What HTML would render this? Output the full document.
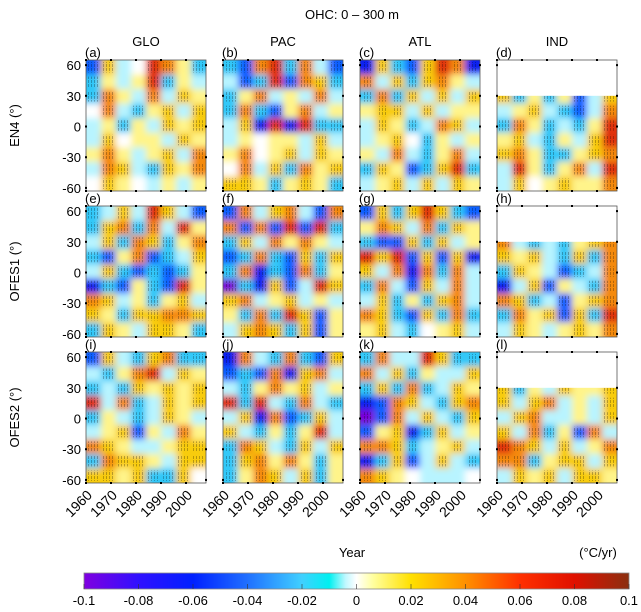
<!DOCTYPE html>
<html><head><meta charset="utf-8"><style>
body{margin:0;background:#fff;}
svg{display:block;font-family:"Liberation Sans",Arial,sans-serif;}
</style></head><body>
<svg id="fig" width="641" height="612" viewBox="0 0 641 612">
<defs>
<linearGradient id="cbg" x1="0" x2="1" y1="0" y2="0">
<stop offset="0" stop-color="#8000e0"/><stop offset="0.1" stop-color="#3010ff"/>
<stop offset="0.2" stop-color="#0020ff"/><stop offset="0.3" stop-color="#2070ff"/>
<stop offset="0.4" stop-color="#40d0ff"/><stop offset="0.45" stop-color="#00f0f0"/>
<stop offset="0.48" stop-color="#c0f8ff"/><stop offset="0.5" stop-color="#ffffff"/>
<stop offset="0.53" stop-color="#ffffa0"/><stop offset="0.6" stop-color="#ffe000"/>
<stop offset="0.7" stop-color="#ff9000"/><stop offset="0.8" stop-color="#ff3000"/>
<stop offset="0.9" stop-color="#e01000"/><stop offset="1" stop-color="#8a3010"/>
</linearGradient>
<pattern id="hatch" width="3" height="4" patternUnits="userSpaceOnUse">
<rect x="1" y="0" width="0.8" height="3" fill="#000" opacity="0.55"/>
</pattern>
<filter id="blur" x="-10%" y="-10%" width="120%" height="120%"><feGaussianBlur stdDeviation="3.5"/></filter>
</defs>
<text x="352" y="19" font-size="13" text-anchor="middle">OHC: 0 – 300 m</text>
<g id="panels"></g>
<text x="352" y="557" font-size="13" text-anchor="middle">Year</text>
<text x="598" y="557" font-size="13" text-anchor="middle">(°C/yr)</text>
<rect x="84" y="573" width="545" height="16" fill="url(#cbg)" stroke="#888" stroke-width="0.8"/>
<g id="cbticks"></g>
</svg>
<script>
// Trend values in units of 0.02 °C/yr; rows from north (65N) to south (63S), columns 8 time bins 1960-2008
const scale = 0.02;
const cols = ["GLO","PAC","ATL","IND"];
const rowsName = ["EN4 (°)","OFES1 (°)","OFES2 (°)"];
const labels = ["(a)","(b)","(c)","(d)","(e)","(f)","(g)","(h)","(i)","(j)","(k)","(l)"];
const latTicks = [60,30,0,-30,-60];
const yearTicks = [1960,1970,1980,1990,2000];
const cbTicks = [-0.1,-0.08,-0.06,-0.04,-0.02,0,0.02,0.04,0.06,0.08,0.1];
const N = null;
const panelA = [[-3,2,-1,0,4,3,1,-2],[-2,1,-1,1,4,-2,1,-1],[-2,3,1,-1,3,-1,2,1],[0,3,-1,-2,1,2,-1,2],[-1,1,-2,1,-1,2,1,2],[-1,2,0,1,1,-1,2,1],[1,3,1,-1,1,2,-1,3],[-1,3,2,-1,-2,2,1,3],[0,2,1,0,-1,1,-1,1]];
const panelB = [[-2,-3,3,4,-2,3,-1,-3],[-1,-3,-2,4,-3,3,2,-2],[-2,1,3,-1,1,-1,3,-1],[-2,3,-2,-3,1,3,-1,1],[-1,2,-4,4,-4,4,-2,-2],[-1,1,0,1,1,-1,2,-1],[1,3,0,1,2,-1,2,1],[0,3,-1,2,-2,3,1,2],[2,2,1,-2,1,2,1,-2]];
const panelC = [[-4,2,-2,-3,2,4,3,-4],[3,-1,2,-2,2,3,1,-1],[-2,3,-2,2,-1,2,-1,2],[1,2,2,-1,2,-1,1,1],[-1,2,1,-2,-1,3,2,-1],[-1,1,2,0,-2,1,-1,1],[1,-1,3,-1,-2,1,3,-1],[-2,2,1,-3,-2,2,4,-2],[-1,1,2,-1,2,-1,2,1]];
const panelD = [N,N,[2,-2,1,-2,1,-3,-1,2],[-1,1,2,-1,-2,-3,-1,3],[-2,3,1,-2,-1,-2,1,4],[1,2,-1,-2,1,-1,2,4],[2,3,1,-2,-2,1,2,3],[-1,4,1,-2,1,3,-1,4],[-1,2,0,1,2,1,1,3]];
const panelE = [[-2,-1,2,-1,4,2,-1,-3],[-2,2,3,-2,3,-1,4,1],[-1,2,-2,3,2,-2,1,3],[-2,-3,1,3,-3,-2,-1,2],[-1,2,-2,-3,-2,-3,-2,1],[-4,-2,-3,1,-2,-3,4,1],[3,2,-1,1,-2,1,2,-1],[2,1,-2,2,2,3,3,2],[-2,2,1,-1,2,2,1,-2]];
const panelF = [[-3,3,-1,2,3,-1,-3,3],[3,-3,3,-3,4,-3,4,-2],[-2,2,-1,3,1,3,1,-1],[-3,-2,3,-2,-3,2,-2,2],[-2,3,-4,-2,-3,3,-2,1],[-5,-2,-4,2,-3,-1,4,2],[2,3,-1,1,2,-1,1,-1],[1,-2,3,-2,4,2,-3,1],[-1,2,3,2,-2,2,-3,1]];
const panelG = [[-3,2,-2,2,4,2,-2,-3],[1,3,2,-1,3,-2,2,1],[-2,-3,-3,2,-2,2,-1,1],[4,2,4,-3,2,-3,2,-4],[2,-1,3,-4,3,-2,3,-1],[-2,3,-1,-3,2,-1,3,-1],[-1,2,-2,1,-2,2,3,-1],[3,2,-2,-3,2,-2,3,-2],[1,2,-1,-2,0,1,2,-1]];
const panelH = [N,N,[3,-1,-2,-1,-2,1,2,3],[2,1,2,-1,-2,2,-2,3],[-2,2,1,-1,-3,-2,-1,3],[-4,-1,2,-3,1,-1,-2,3],[3,2,-2,-1,-3,1,2,3],[-2,3,1,2,-3,2,-2,4],[-1,2,1,-1,1,2,1,3]];
const panelI = [[-3,2,-1,-2,2,3,-2,-2],[-1,-2,1,3,4,-1,2,1],[-2,-1,-2,2,1,2,1,2],[4,-1,3,-2,-1,2,1,2],[-2,1,-1,-2,-1,2,1,-1],[-1,1,2,-3,1,-1,3,1],[3,2,1,-1,-1,1,2,2],[-2,3,2,2,1,-1,2,2],[2,2,1,2,-2,-2,2,0]];
const panelJ = [[-4,3,-1,-2,3,-2,-3,2],[-3,-2,-3,3,-4,2,3,-1],[-1,-2,1,3,1,2,-1,1],[4,-2,4,-1,-2,3,-1,-2],[-1,2,-4,3,-3,-2,2,-1],[2,-1,-2,1,-2,1,4,-1],[-2,3,2,-1,-2,2,-1,2],[-2,2,3,1,3,1,-2,1],[-2,1,3,2,-1,2,-2,1]];
const panelK = [[-2,3,-1,-1,4,2,-2,-2],[3,-1,2,-2,1,-1,-1,2],[-2,2,-2,3,-2,-1,2,1],[-4,-3,3,2,-1,-2,2,3],[-5,-3,3,-1,2,-1,-2,2],[-3,1,2,-4,-2,2,-1,1],[3,3,2,-2,-1,1,2,-1],[-4,-2,2,-3,-1,2,-1,-2],[3,2,1,0,-1,-1,-1,0]];
const panelL = [N,N,[2,-2,1,-1,2,1,1,2],[2,-1,2,3,-1,1,-1,2],[-1,2,3,-1,-1,1,-1,2],[2,-1,3,-2,1,-3,3,-1],[4,3,2,-1,2,-1,1,3],[3,3,-2,1,2,2,-1,2],[-1,2,1,2,-1,2,2,1]];
const panels = [panelA,panelB,panelC,panelD,panelE,panelF,panelG,panelH,panelI,panelJ,panelK,panelL];

const NS="http://www.w3.org/2000/svg";
const colX=[86,223,360,497], rowY=[60,206,352], PW=120, PH=131;
const yearMin=1960, yearMax=2008, latTop=65, latBot=-63;
const cmap=[[-5,"#7a00d8"],[-4,"#1020f0"],[-3,"#1060ff"],[-2,"#30c8f8"],[-1,"#b8f4ff"],[0,"#ffffff"],[1,"#fff48a"],[2,"#f8cc10"],[3,"#f48a10"],[4,"#e03010"],[5,"#982010"]];
function color(v){const k=Math.max(-5,Math.min(5,Math.round(v)));return cmap[k+5][1];}
function mk(tag,attrs,parent){const e=document.createElementNS(NS,tag);for(const k in attrs)e.setAttribute(k,attrs[k]);parent.appendChild(e);return e;}
const root=document.getElementById("panels");
function xScale(c,yr){return colX[c]+(yr-yearMin)/(yearMax-yearMin)*PW;}
function yScale(r,lat){return rowY[r]+(latTop-lat)/(latTop-latBot)*PH;}

cols.forEach((name,c)=>{
  const t=mk("text",{x:colX[c]+PW/2,y:46,"font-size":13,"text-anchor":"middle"},root);
  
  
  t.textContent=name;
});
rowsName.forEach((name,r)=>{
  const cy=rowY[r]+PH/2;
  const t=mk("text",{x:0,y:0,"font-size":13,"text-anchor":"middle",transform:`translate(19,${cy}) rotate(-90)`},root);
  
  
  t.textContent=name;
});

panels.forEach((grid,p)=>{
  const r=Math.floor(p/4), c=p%4;
  const g=mk("g",{},root);
  
  
  const cid="clip"+p;
  const cp=mk("clipPath",{id:cid},g);
  mk("rect",{x:colX[c],y:rowY[r],width:PW,height:PH},cp);
  const cells=mk("g",{"clip-path":`url(#${cid})`},g);
  const blurG=mk("g",{filter:"url(#blur)"},cells);
  const nR=grid.length, nC=8;
  const latStep=(latTop-latBot)/nR, yrStep=(yearMax-yearMin)/nC;
  grid.forEach((row,i)=>{
    if(!row) return;
    row.forEach((v,j)=>{
      let x0=xScale(c,yearMin+j*yrStep), x1=xScale(c,yearMin+(j+1)*yrStep);
      let y0=yScale(r,latTop-i*latStep), y1=yScale(r,latTop-(i+1)*latStep);
      if(j===0)x0-=10; if(j===nC-1)x1+=10;
      if(i===nR-1)y1+=10; if(i===0)y0-=10;
      if(i>0 && !grid[i-1]) y0=yScale(r,30)-10;
      const rc=mk("rect",{x:x0,y:y0,width:x1-x0+0.5,height:y1-y0+0.5,fill:color(v)},blurG);
      
      
      rc.setAttribute('data-value',(v*scale).toFixed(2));
    });
  });
  grid.forEach((row,i)=>{
    if(!row) return;
    row.forEach((v,j)=>{
      if(Math.abs(v)<2) return;
      const x0=xScale(c,yearMin+j*yrStep), x1=xScale(c,yearMin+(j+1)*yrStep);
      const y0=yScale(r,latTop-i*latStep), y1=yScale(r,latTop-(i+1)*latStep);
      mk("rect",{x:x0+2,y:y0+2,width:x1-x0-4,height:y1-y0-4,fill:"url(#hatch)",opacity:0.6},cells);
    });
  });
  if(!grid[0]){
    const wr=mk("rect",{x:colX[c],y:rowY[r],width:PW,height:yScale(r,30)-rowY[r],fill:"#fff"},g);
    
    
  }
  const fr=mk("rect",{x:colX[c],y:rowY[r],width:PW,height:PH,fill:"none",stroke:"#555","stroke-width":0.8},g);
  
  
  yearTicks.forEach(yr=>{
    const x=xScale(c,yr);
    mk("rect",{x:x-1,y:rowY[r]-1,width:2,height:2,fill:"#000"},g);
    mk("rect",{x:x-1,y:rowY[r]+PH-1,width:2,height:2,fill:"#000"},g);
  });
  latTicks.forEach(l=>{
    const y=yScale(r,l);
    mk("rect",{x:colX[c]-1,y:y-1,width:2,height:2,fill:"#000"},g);
    mk("rect",{x:colX[c]+PW-1,y:y-1,width:2,height:2,fill:"#000"},g);
    if(c===0){
      const t=mk("text",{x:colX[c]-5,y:y+5,"font-size":13,"text-anchor":"end"},g);
      
      
      t.textContent=l;
    }
  });
  const lb=mk("text",{x:colX[c]-1,y:rowY[r]-3,"font-size":13},g);
  
  
  lb.textContent=labels[p];
  if(r===2){
    yearTicks.forEach(yr=>{
      const x=xScale(c,yr);
      const t=mk("text",{x:0,y:0,"font-size":14,"text-anchor":"end",transform:`translate(${x+7},${rowY[r]+PH+13}) rotate(-45)`},g);
      
      
      t.textContent=yr;
    });
  }
});

const cbg=document.getElementById("cbticks");
cbTicks.forEach(v=>{
  const x=84+(v+0.1)/0.2*545;
  mk("line",{x1:x,x2:x,y1:584,y2:589,stroke:"#333","stroke-width":0.6},cbg);
  const t=mk("text",{x:x,y:605,"font-size":13,"text-anchor":"middle"},cbg);
  
  
  t.textContent=String(v);
});
</script>
</body></html>
